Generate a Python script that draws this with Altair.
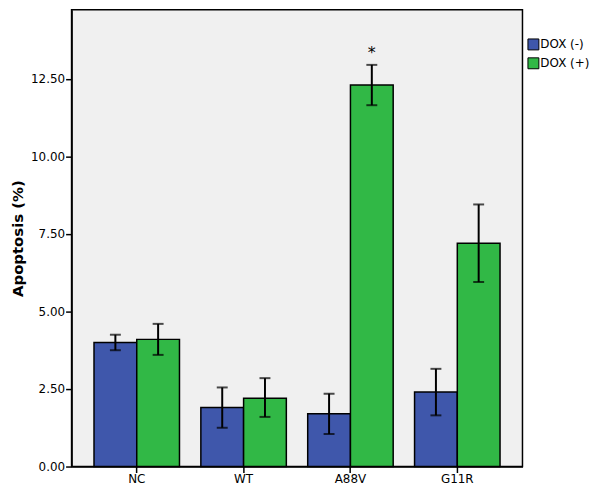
import altair as alt
import pandas as pd

categories = ["NC", "WT", "A88V", "G11R"]
groups = ["DOX (-)", "DOX (+)"]
mean_minus = [4.0, 1.9, 1.7, 2.4]
mean_plus = [4.1, 2.2, 12.3, 7.2]
low_minus = [3.75, 1.25, 1.05, 1.65]
high_minus = [4.25, 2.55, 2.35, 3.15]
low_plus = [3.6, 1.6, 11.65, 5.95]
high_plus = [4.6, 2.85, 12.95, 8.45]
star_cat = "A88V"
star_group = "DOX (+)"

rows = []
for i, c in enumerate(categories):
    rows.append({"cat": c, "grp": groups[0], "val": mean_minus[i], "lo": low_minus[i], "hi": high_minus[i]})
    rows.append({"cat": c, "grp": groups[1], "val": mean_plus[i], "lo": low_plus[i], "hi": high_plus[i]})
df = pd.DataFrame(rows)
star_df = df[(df.cat == star_cat) & (df.grp == star_group)].assign(txt="*")

xenc = alt.X("cat:N", sort=categories, title=None,
             scale=alt.Scale(paddingInner=0.2, paddingOuter=0.21),
             axis=alt.Axis(labelAngle=0, labelFontSize=12, labelColor="black",
                           labelFont="DejaVu Sans", domainColor="black", tickColor="black",
                           tickSize=6, labelPadding=1, domainWidth=1.5, tickWidth=1.5))
xoff = alt.XOffset("grp:N", sort=groups, scale=alt.Scale(paddingInner=0, paddingOuter=0))
yscale = alt.Scale(domain=[0, 14.73], nice=False, zero=True)
yenc = alt.Y("val:Q", scale=yscale, title="Apoptosis (%)",
             axis=alt.Axis(values=[0, 2.5, 5, 7.5, 10, 12.5], format=".2f", grid=False,
                           labelFontSize=12, labelColor="black", labelFont="DejaVu Sans",
                           labelPadding=1,
                           titleFontSize=15, titleFontWeight="bold", titleColor="black",
                           titleFont="DejaVu Sans", titlePadding=5,
                           domainColor="black", tickColor="black", tickSize=6,
                           domainWidth=1.5, tickWidth=1.5))

color = alt.Color("grp:N", sort=groups, title=None,
                  scale=alt.Scale(domain=groups, range=["#3F57AB", "#31B846"]),
                  legend=alt.Legend(orient="none", legendX=459, legendY=29,
                                    symbolType="square", symbolSize=121,
                                    symbolStrokeColor="black", symbolStrokeWidth=1,
                                    labelFontSize=12, labelFont="DejaVu Sans",
                                    labelColor="black", rowPadding=3, labelOffset=1))

bars = alt.Chart(df).mark_bar(stroke="black", strokeWidth=1.5).encode(
    x=xenc, xOffset=xoff, y=yenc, color=color)

err = alt.Chart(df).mark_rule(color="black", strokeWidth=2).encode(
    x=alt.X("cat:N", sort=categories), xOffset=xoff,
    y=alt.Y("lo:Q", scale=yscale), y2="hi:Q")

cap_lo = alt.Chart(df).mark_tick(color="black", thickness=2, size=11).encode(
    x=alt.X("cat:N", sort=categories), xOffset=xoff, y=alt.Y("lo:Q", scale=yscale))
cap_hi = alt.Chart(df).mark_tick(color="black", thickness=2, size=11).encode(
    x=alt.X("cat:N", sort=categories), xOffset=xoff, y=alt.Y("hi:Q", scale=yscale))

star = alt.Chart(star_df).mark_text(fontSize=16, dy=-12, color="black",
                                     font="DejaVu Sans").encode(
    x=alt.X("cat:N", sort=categories), xOffset=xoff,
    y=alt.Y("hi:Q", scale=yscale), text="txt:N")

chart = alt.layer(bars, err, cap_lo, cap_hi, star).properties(
    width=454, height=460,
    background="white",
    autosize=alt.AutoSizeParams(type="none"),
    padding={"left": 64, "top": 0, "right": 70, "bottom": 30},
).configure_view(fill="#F0F0F0", stroke="black", strokeWidth=1.5)

chart.save("out.html", embed_options={"renderer": "svg", "actions": False})
